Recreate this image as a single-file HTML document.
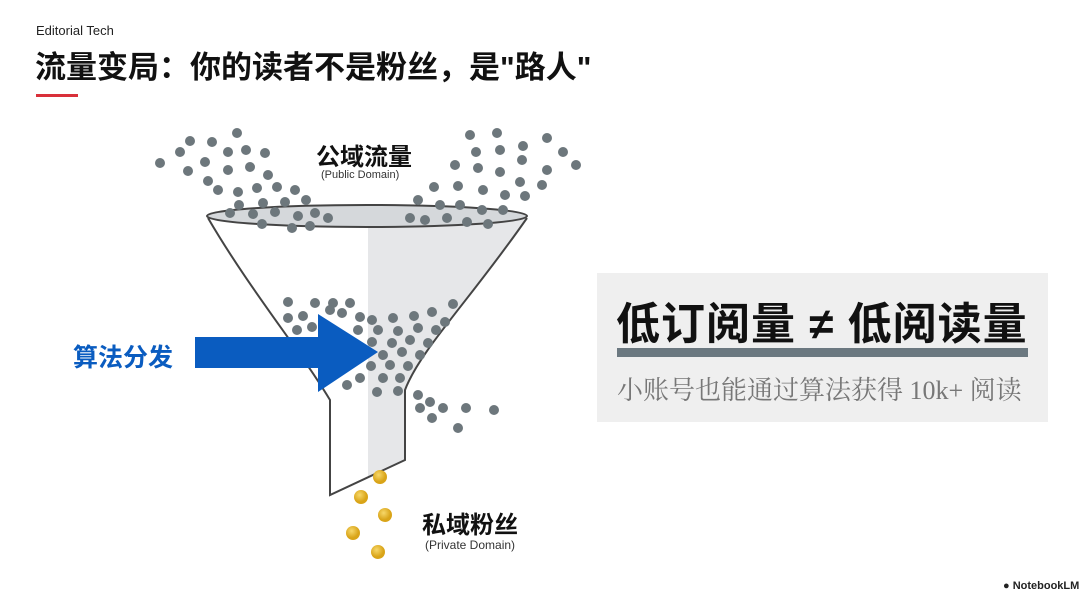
<!DOCTYPE html>
<html><head><meta charset="utf-8"><style>
body{margin:0;width:1080px;height:595px;background:#fff;overflow:hidden;position:relative;font-family:"Liberation Sans","Noto Sans CJK SC",sans-serif}
.t{position:absolute;white-space:nowrap}
</style></head><body>
<div class="t" style="left:36px;top:23px;font-size:13px;color:#222">Editorial Tech</div>
<div class="t" style="left:35px;top:42px;font-size:31px;font-weight:bold;color:#111">流量变局：你的读者不是粉丝，是"路人"</div>
<div style="position:absolute;left:36px;top:94px;width:42px;height:3px;background:#d9303a"></div>
<svg width="1080" height="595" style="position:absolute;left:0;top:0">
<defs><radialGradient id="g" cx="40%" cy="35%"><stop offset="0" stop-color="#f7d86a"/><stop offset="1" stop-color="#d9a418"/></radialGradient></defs>
<path d="M368,220 L527,218 C470,300 420,350 405,390 L405,460 L368,478 Z" fill="#e6e7e9"/>
<ellipse cx="367" cy="216" rx="160" ry="11" fill="#d5d8db" stroke="#444" stroke-width="2"/>
<path d="M208,218 C250,290 300,350 330,400 L330,495 L405,460 L405,390 C420,350 470,300 527,218" fill="none" stroke="#444" stroke-width="2"/>
<g fill="#6d777c">
<circle cx="237" cy="133" r="5"/><circle cx="190" cy="141" r="5"/><circle cx="212" cy="142" r="5"/><circle cx="160" cy="163" r="5"/><circle cx="180" cy="152" r="5"/><circle cx="205" cy="162" r="5"/><circle cx="228" cy="152" r="5"/><circle cx="246" cy="150" r="5"/><circle cx="265" cy="153" r="5"/><circle cx="188" cy="171" r="5"/><circle cx="208" cy="181" r="5"/><circle cx="228" cy="170" r="5"/><circle cx="250" cy="167" r="5"/><circle cx="268" cy="175" r="5"/><circle cx="218" cy="190" r="5"/><circle cx="238" cy="192" r="5"/><circle cx="257" cy="188" r="5"/><circle cx="277" cy="187" r="5"/><circle cx="295" cy="190" r="5"/><circle cx="239" cy="205" r="5"/><circle cx="263" cy="203" r="5"/><circle cx="285" cy="202" r="5"/><circle cx="306" cy="200" r="5"/><circle cx="230" cy="213" r="5"/><circle cx="253" cy="214" r="5"/><circle cx="275" cy="212" r="5"/><circle cx="298" cy="216" r="5"/><circle cx="315" cy="213" r="5"/><circle cx="328" cy="218" r="5"/><circle cx="262" cy="224" r="5"/><circle cx="292" cy="228" r="5"/><circle cx="310" cy="226" r="5"/>
<circle cx="470" cy="135" r="5"/><circle cx="497" cy="133" r="5"/><circle cx="523" cy="146" r="5"/><circle cx="547" cy="138" r="5"/><circle cx="563" cy="152" r="5"/><circle cx="576" cy="165" r="5"/><circle cx="547" cy="170" r="5"/><circle cx="522" cy="160" r="5"/><circle cx="500" cy="150" r="5"/><circle cx="476" cy="152" r="5"/><circle cx="455" cy="165" r="5"/><circle cx="478" cy="168" r="5"/><circle cx="500" cy="172" r="5"/><circle cx="520" cy="182" r="5"/><circle cx="542" cy="185" r="5"/><circle cx="434" cy="187" r="5"/><circle cx="458" cy="186" r="5"/><circle cx="483" cy="190" r="5"/><circle cx="505" cy="195" r="5"/><circle cx="525" cy="196" r="5"/><circle cx="418" cy="200" r="5"/><circle cx="440" cy="205" r="5"/><circle cx="460" cy="205" r="5"/><circle cx="482" cy="210" r="5"/><circle cx="503" cy="210" r="5"/><circle cx="410" cy="218" r="5"/><circle cx="425" cy="220" r="5"/><circle cx="447" cy="218" r="5"/><circle cx="467" cy="222" r="5"/><circle cx="488" cy="224" r="5"/>
<circle cx="288" cy="302" r="5"/><circle cx="315" cy="303" r="5"/><circle cx="333" cy="303" r="5"/><circle cx="350" cy="303" r="5"/><circle cx="453" cy="304" r="5"/><circle cx="288" cy="318" r="5"/><circle cx="303" cy="316" r="5"/><circle cx="330" cy="310" r="5"/><circle cx="342" cy="313" r="5"/><circle cx="360" cy="317" r="5"/><circle cx="372" cy="320" r="5"/><circle cx="393" cy="318" r="5"/><circle cx="414" cy="316" r="5"/><circle cx="432" cy="312" r="5"/><circle cx="445" cy="322" r="5"/><circle cx="297" cy="330" r="5"/><circle cx="312" cy="327" r="5"/><circle cx="358" cy="330" r="5"/><circle cx="378" cy="330" r="5"/><circle cx="398" cy="331" r="5"/><circle cx="418" cy="328" r="5"/><circle cx="436" cy="330" r="5"/><circle cx="372" cy="342" r="5"/><circle cx="392" cy="343" r="5"/><circle cx="410" cy="340" r="5"/><circle cx="428" cy="343" r="5"/><circle cx="383" cy="355" r="5"/><circle cx="402" cy="352" r="5"/><circle cx="420" cy="355" r="5"/><circle cx="371" cy="366" r="5"/><circle cx="390" cy="365" r="5"/><circle cx="408" cy="366" r="5"/><circle cx="360" cy="378" r="5"/><circle cx="383" cy="378" r="5"/><circle cx="400" cy="378" r="5"/><circle cx="347" cy="385" r="5"/><circle cx="377" cy="392" r="5"/><circle cx="398" cy="391" r="5"/><circle cx="418" cy="395" r="5"/><circle cx="430" cy="402" r="5"/><circle cx="420" cy="408" r="5"/><circle cx="443" cy="408" r="5"/><circle cx="466" cy="408" r="5"/><circle cx="494" cy="410" r="5"/><circle cx="432" cy="418" r="5"/><circle cx="458" cy="428" r="5"/>
</g>
<path d="M195,337 L318,337 L318,314 L378,352 L318,392 L318,368 L195,368 Z" fill="#0a5cc0"/>
<g fill="url(#g)"><circle cx="380" cy="477" r="7"/><circle cx="361" cy="497" r="7"/><circle cx="385" cy="515" r="7"/><circle cx="353" cy="533" r="7"/><circle cx="378" cy="552" r="7"/></g>
</svg>
<div class="t" style="left:316px;top:137px;font-size:24px;font-weight:bold;color:#111">公域流量</div>
<div class="t" style="left:321px;top:169px;font-size:11px;color:#333">(Public Domain)</div>
<div class="t" style="left:73px;top:338px;font-size:25px;font-weight:bold;color:#0a5cc0">算法分发</div>
<div class="t" style="left:422px;top:505px;font-size:24px;font-weight:bold;color:#111">私域粉丝</div>
<div class="t" style="left:425px;top:538px;font-size:12px;color:#333">(Private Domain)</div>
<div style="position:absolute;left:597px;top:273px;width:451px;height:149px;background:#efefef"></div>
<div class="t" style="left:616px;top:288px;font-size:44px;font-weight:bold;color:#111;letter-spacing:1px">低订阅量 ≠ 低阅读量</div>
<div style="position:absolute;left:617px;top:348px;width:411px;height:9px;background:#6b7880"></div>
<div class="t" style="left:617px;top:370px;font-size:26px;color:#777;font-family:'Liberation Serif','Noto Serif CJK SC',serif">小账号也能通过算法获得 10k+ 阅读</div>
<div class="t" style="left:1003px;top:580px;font-size:11px;font-weight:bold;color:#222">● NotebookLM</div>
</body></html>
